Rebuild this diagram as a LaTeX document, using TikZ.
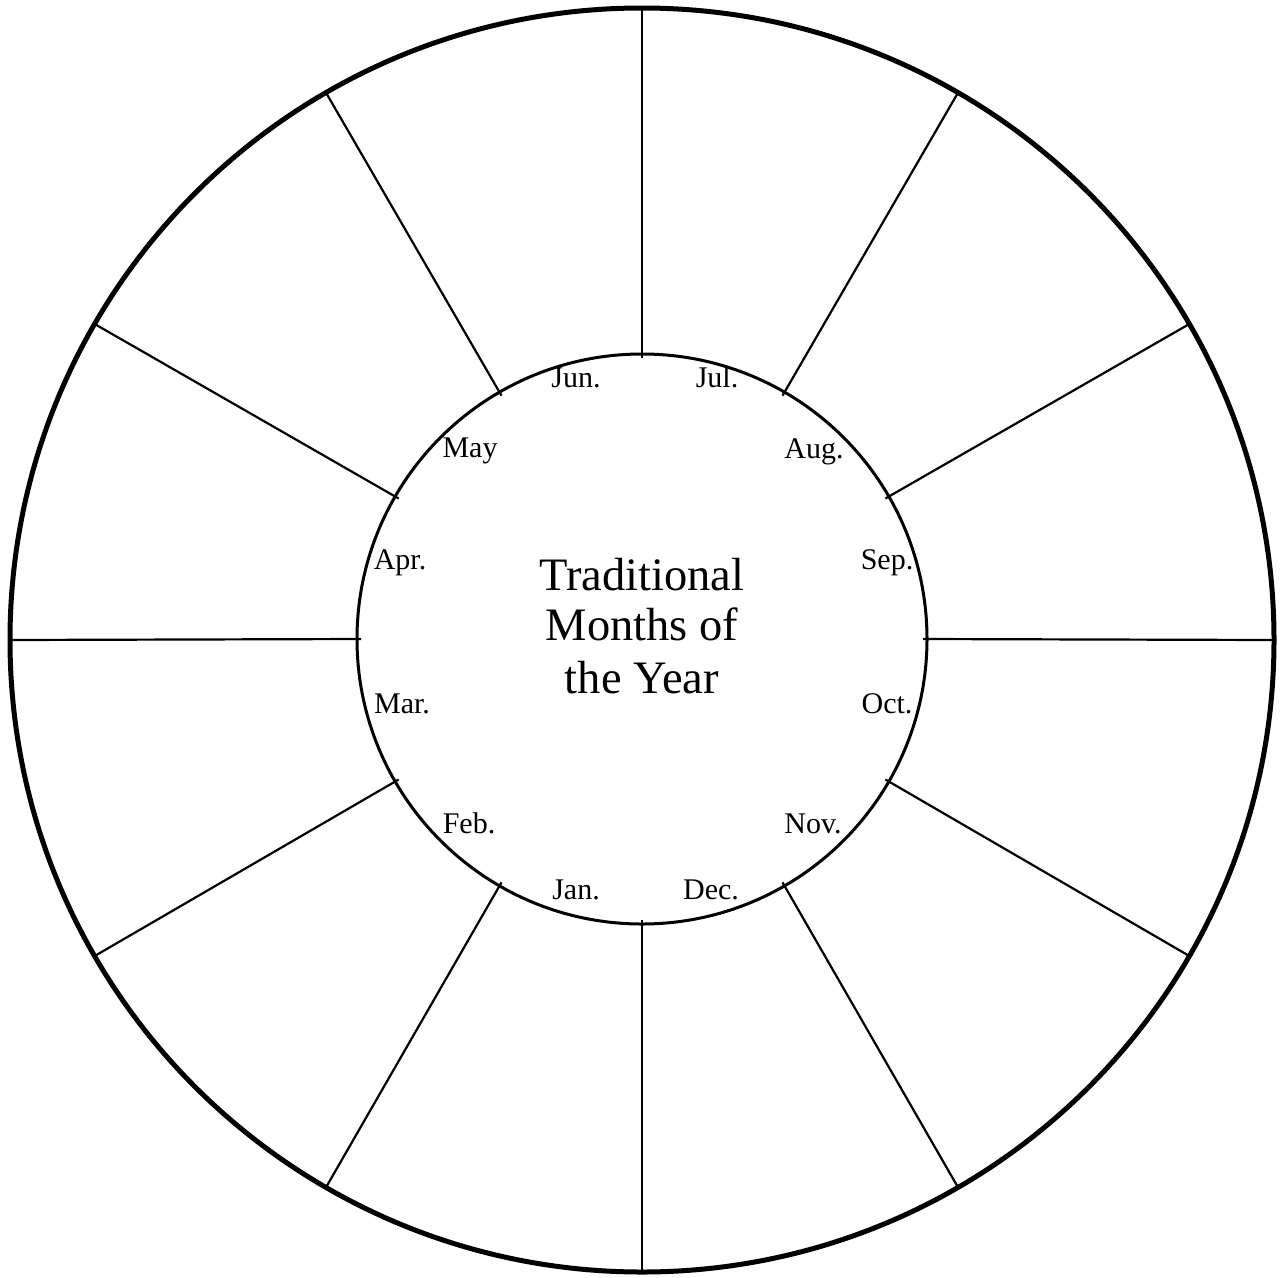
\documentclass[tikz,border=0pt]{standalone}
\usepackage{fontspec}
\setmainfont{Liberation Serif}
\usetikzlibrary{calc}
\begin{document}
\begin{tikzpicture}[x=1pt,y=-1pt,
  outerring/.style={line width=5pt},
  innerring/.style={line width=3pt},
  spoke/.style={line width=2.2pt},
  month/.style={font=\fontsize{30}{34}\selectfont, inner sep=0pt, anchor=base},
  title/.style={font=\fontsize{46.5}{51}\selectfont, inner sep=0pt, anchor=base}]
\useasboundingbox (0,0) rectangle (1281,1277);
\coordinate (c) at (642,640);
\coordinate (ci) at (642,639);
\draw[outerring] (c) circle (632);
\draw[innerring] (ci) circle (285);
\foreach \a in {0,30,...,330}{
  \draw[spoke] ($(ci)+(\a:281)$) -- ($(c)+(\a:632)$);
}
\node[title] (t1) at (642,590) {Traditional};
\node[title] (t2) at (642,640) {Months of};
\node[title] (t3) at (642,693) {the Year};
\node[month] (jun) at (576,387) {Jun.};
\node[month] (jul) at (717,387) {Jul.};
\node[month] (aug) at (814,458) {Aug.};
\node[month] (sep) at (887,569) {Sep.};
\node[month] (oct) at (887,713) {Oct.};
\node[month] (nov) at (813,833) {Nov.};
\node[month] (dec) at (711,899) {Dec.};
\node[month] (jan) at (576,899) {Jan.};
\node[month] (feb) at (469,833) {Feb.};
\node[month] (mar) at (402,713) {Mar.};
\node[month] (apr) at (400,569) {Apr.};
\node[month] (may) at (470,457) {May};
\end{tikzpicture}
\end{document}
